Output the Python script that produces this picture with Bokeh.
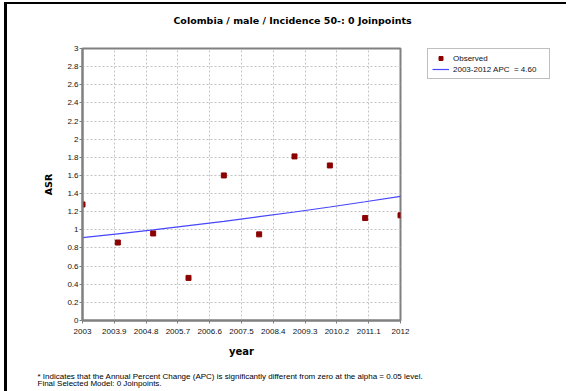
from bokeh.plotting import figure
from bokeh.layouts import column, row
from bokeh.models import Range1d, FixedTicker, Legend, LegendItem, ColumnDataSource, Label
from bokeh.embed import file_html
from bokeh.resources import INLINE

# ---- data ----
years = [2003, 2004, 2005, 2006, 2007, 2008, 2009, 2010, 2011, 2012]
observed = [1.28, 0.86, 0.96, 0.47, 1.60, 0.95, 1.81, 1.71, 1.13, 1.16]
fitted = [0.914, 0.956, 1.000, 1.046, 1.094, 1.145, 1.197, 1.252, 1.310, 1.370]

x_ticks = [2003, 2003.9, 2004.8, 2005.7, 2006.6, 2007.5, 2008.4, 2009.3, 2010.2, 2011.1, 2012]
x_tick_labels = ["2003", "2003.9", "2004.8", "2005.7", "2006.6", "2007.5",
                 "2008.4", "2009.3", "2010.2", "2011.1", "2012"]
y_ticks = [0, 0.2, 0.4, 0.6, 0.8, 1, 1.2, 1.4, 1.6, 1.8, 2, 2.2, 2.4, 2.6, 2.8, 3]
y_tick_labels = ["0", "0.2", "0.4", "0.6", "0.8", "1", "1.2", "1.4", "1.6", "1.8",
                 "2", "2.2", "2.4", "2.6", "2.8", "3"]

title_text = "Colombia / male / Incidence 50-: 0 Joinpoints"
x_label = "year"
y_label = "ASR"
legend_labels = ["Observed", "2003-2012 APC  = 4.60"]
footnotes = [
    "* Indicates that the Annual Percent Change (APC) is significantly different from zero at the alpha = 0.05 level.",
    "Final Selected Model: 0 Joinpoints.",
]

PT_COLOR = "#8b0000"
LINE_COLOR = "#4646ff"


def blank(width, height):
    f = figure(width=width, height=height, output_backend="svg", toolbar_location=None,
               title=None, x_axis_location=None, y_axis_location=None, min_border=0,
               x_range=Range1d(0, 1), y_range=Range1d(0, 1),
               background_fill_color="white", border_fill_color="white")
    f.outline_line_color = None
    f.grid.visible = False
    return f


src = ColumnDataSource(dict(x=years, obs=observed, fit=fitted))

# ---- top strip: title ----
t = blank(559, 32)
t.add_layout(Label(x=285, y=16, x_units="screen", y_units="screen", text=title_text,
                   text_font="DejaVu Sans", text_font_style="bold", text_font_size="9.5px",
                   text_align="center", text_baseline="middle", text_color="black"))

# ---- main chart ----
p = figure(width=420, height=328, output_backend="svg", toolbar_location=None,
           x_range=Range1d(2003, 2012), y_range=Range1d(0, 3),
           min_border_left=75, min_border_right=27, min_border_top=12, min_border_bottom=44,
           background_fill_color="white", border_fill_color="white")

p.line("x", "fit", source=src, line_color=LINE_COLOR, line_width=1.2)
p.scatter("x", "obs", source=src, marker="square", size=5,
          fill_color=PT_COLOR, line_color=PT_COLOR)

p.outline_line_color = "#808080"
p.outline_line_width = 2
for ax in (p.xaxis[0], p.yaxis[0]):
    ax.axis_line_color = "#808080"
    ax.axis_line_width = 2
    ax.major_tick_line_color = "#808080"
    ax.major_tick_in = 0
    ax.major_tick_out = 3
    ax.minor_tick_line_color = None
    ax.major_label_text_font = "Liberation Sans"
    ax.major_label_text_font_size = "8px"
    ax.major_label_text_color = "#111111"
    ax.axis_label_text_font = "DejaVu Sans"
    ax.axis_label_text_font_style = "bold"
    ax.axis_label_text_color = "black"

p.xaxis.ticker = FixedTicker(ticks=x_ticks)
p.xaxis.major_label_overrides = {tk: lb for tk, lb in zip(x_ticks, x_tick_labels)}
p.xaxis.major_label_standoff = 5
p.xaxis.axis_label = x_label
p.xaxis.axis_label_text_font_size = "10px"
p.xaxis.axis_label_standoff = 9

p.yaxis.ticker = FixedTicker(ticks=y_ticks)
p.yaxis.major_label_overrides = {tk: lb for tk, lb in zip(y_ticks, y_tick_labels)}
p.yaxis.major_label_standoff = 1
p.yaxis.axis_label = y_label
p.yaxis.axis_label_text_font_size = "9.5px"
p.yaxis.axis_label_standoff = 10

p.xgrid.ticker = FixedTicker(ticks=x_ticks)
p.ygrid.ticker = FixedTicker(ticks=y_ticks)
for g in (p.xgrid[0], p.ygrid[0]):
    g.grid_line_color = "#c4c4c4"
    g.grid_line_dash = "2 2"
    g.grid_line_width = 1

# ---- legend strip (same series, outside this strip's view; only the legend shows) ----
q = blank(139, 328)
leg_pts = q.scatter("x", "obs", source=src, marker="square", size=5,
                    fill_color=PT_COLOR, line_color=PT_COLOR)
leg_line = q.line("x", "fit", source=src, line_color=LINE_COLOR, line_width=1.2)
legend = Legend(items=[LegendItem(label=legend_labels[0], renderers=[leg_pts]),
                       LegendItem(label=legend_labels[1], renderers=[leg_line])],
                location="top_left")
legend.border_line_color = "#808080"
legend.border_line_width = 1
legend.background_fill_alpha = 1
legend.label_text_font = "Liberation Sans"
legend.label_text_font_size = "8px"
legend.label_text_color = "#111111"
legend.glyph_width = 17
legend.glyph_height = 10
legend.label_height = 10
legend.label_width = 92
legend.label_standoff = 4
legend.padding = 4
legend.spacing = 1
legend.margin = 0
q.add_layout(legend)

# ---- bottom strip: footnotes ----
b = blank(559, 27)
for txt, yy in zip(footnotes, [15, 8]):
    b.add_layout(Label(x=30, y=yy, x_units="screen", y_units="screen", text=txt,
                       text_font="Liberation Sans", text_font_size="8px",
                       text_align="left", text_baseline="middle", text_color="black"))

layout = column(t, row(p, q, spacing=0), b, spacing=0)
layout.styles = {"border-left": "3px solid black", "border-top": "2px solid black",
                 "margin-left": "4px", "margin-top": "2px"}

open("out.html", "w").write(file_html(layout, INLINE))
